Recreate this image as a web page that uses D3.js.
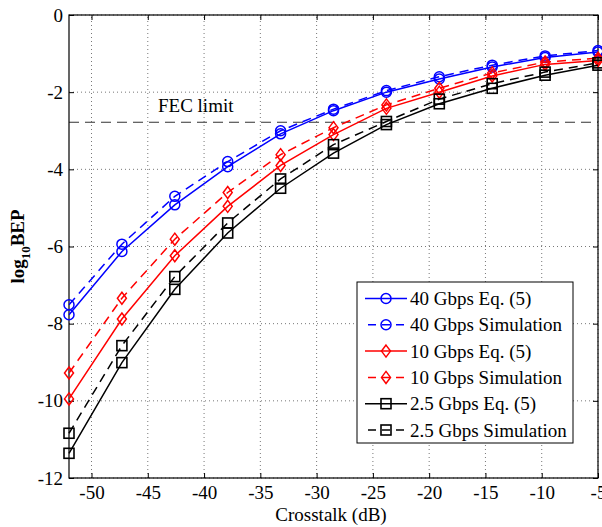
<!DOCTYPE html>
<html>
<head>
<meta charset="utf-8">
<script src="https://cdn.jsdelivr.net/npm/d3@7"></script>
<style>
  body { margin: 0; background: #fff; }
  svg { font-family: 'Liberation Serif', 'DejaVu Serif', serif; }
</style>
</head>
<body>
<svg id="chart"></svg>
<script>
const crosstalk = [-52, -47.3, -42.6, -37.9, -33.2, -28.5, -23.8, -19.1, -14.4, -9.7, -5];
const eq40 = [-7.77, -6.13, -4.92, -3.93, -3.08, -2.48, -2.0, -1.66, -1.35, -1.1, -0.96];
const sim40 = [-7.51, -5.94, -4.7, -3.8, -3.0, -2.44, -1.96, -1.6, -1.3, -1.06, -0.92];
const eq10 = [-9.95, -7.88, -6.24, -4.96, -3.9, -3.1, -2.42, -2.0, -1.58, -1.28, -1.18];
const sim10 = [-9.28, -7.34, -5.81, -4.6, -3.62, -2.92, -2.33, -1.9, -1.5, -1.22, -1.12];
const eq25 = [-11.36, -9.01, -7.11, -5.65, -4.49, -3.58, -2.84, -2.3, -1.9, -1.56, -1.3];
const sim25 = [-10.84, -8.57, -6.78, -5.39, -4.25, -3.36, -2.76, -2.18, -1.78, -1.48, -1.24];
const fecLimit = -2.78;
const xTicks = [-50, -45, -40, -35, -30, -25, -20, -15, -10, -5];
const yTicks = [0, -2, -4, -6, -8, -10, -12];

const series = [
  { name: '40 Gbps Eq. (5)', values: eq40, color: '#0000ff', dash: null, marker: 'circle' },
  { name: '40 Gbps Simulation', values: sim40, color: '#0000ff', dash: '9,6', marker: 'circle' },
  { name: '10 Gbps Eq. (5)', values: eq10, color: '#ff0000', dash: null, marker: 'diamond' },
  { name: '10 Gbps Simulation', values: sim10, color: '#ff0000', dash: '9,6', marker: 'diamond' },
  { name: '2.5 Gbps Eq. (5)', values: eq25, color: '#000000', dash: null, marker: 'square' },
  { name: '2.5 Gbps Simulation', values: sim25, color: '#000000', dash: '9,6', marker: 'square' },
];

const width = 602;
const height = 527;
const margin = { top: 15, right: 4, bottom: 49, left: 69 };
const fontSize = 19;

const svg = d3.select('#chart').attr('width', width).attr('height', height);

const x = d3.scaleLinear().domain([-52, -5]).range([margin.left, width - margin.right]);
const y = d3.scaleLinear().domain([-12, 0]).range([height - margin.bottom, margin.top]);
const fmt = (d) => String(d);

// grid
const grid = svg.append('g').attr('stroke', '#777').attr('stroke-dasharray', '1,3').attr('stroke-width', 1);
xTicks.forEach((t) => {
  grid.append('line').attr('x1', x(t)).attr('x2', x(t)).attr('y1', y(-12)).attr('y2', y(0));
});
yTicks.forEach((t) => {
  grid.append('line').attr('x1', x(-52)).attr('x2', x(-5)).attr('y1', y(t)).attr('y2', y(t));
});

// FEC limit
svg.append('line')
  .attr('x1', x(-52)).attr('x2', x(-5))
  .attr('y1', y(fecLimit)).attr('y2', y(fecLimit))
  .attr('stroke', '#333').attr('stroke-width', 1.2).attr('stroke-dasharray', '10,6');
svg.append('text')
  .attr('x', 158).attr('y', y(fecLimit) - 10)
  .attr('font-size', fontSize).text('FEC limit');

// axes (ticks inside, MATLAB style)
const tickLen = 5;
svg.append('g')
  .attr('transform', `translate(0,${y(-12)})`)
  .call(d3.axisBottom(x).tickValues(xTicks).tickFormat(fmt).tickSizeInner(-tickLen).tickSizeOuter(0).tickPadding(8))
  .call((g) => g.select('.domain').remove())
  .call((g) => g.selectAll('text').attr('font-size', fontSize).attr('font-family', 'Liberation Serif'));
svg.append('g')
  .attr('transform', `translate(0,${y(0)})`)
  .call(d3.axisTop(x).tickValues(xTicks).tickSizeInner(-tickLen).tickSizeOuter(0).tickFormat(''))
  .call((g) => g.select('.domain').remove());
svg.append('g')
  .attr('transform', `translate(${x(-52)},0)`)
  .call(d3.axisLeft(y).tickValues(yTicks).tickFormat(fmt).tickSizeInner(-tickLen).tickSizeOuter(0).tickPadding(6))
  .call((g) => g.select('.domain').remove())
  .call((g) => g.selectAll('text').attr('font-size', fontSize).attr('font-family', 'Liberation Serif'));
svg.append('g')
  .attr('transform', `translate(${x(-5)},0)`)
  .call(d3.axisRight(y).tickValues(yTicks).tickSizeInner(-tickLen).tickSizeOuter(0).tickFormat(''))
  .call((g) => g.select('.domain').remove());

svg.append('rect')
  .attr('x', x(-52)).attr('y', y(0))
  .attr('width', x(-5) - x(-52)).attr('height', y(-12) - y(0))
  .attr('fill', 'none').attr('stroke', '#000').attr('stroke-width', 1.2);

// markers
function drawMarker(g, type, cx, cy, color) {
  if (type === 'circle') {
    g.append('circle').attr('cx', cx).attr('cy', cy).attr('r', 5)
      .attr('fill', 'none').attr('stroke', color).attr('stroke-width', 1.5);
  } else if (type === 'diamond') {
    const r = 6;
    g.append('path')
      .attr('d', `M${cx},${cy - r}L${cx + r * 0.75},${cy}L${cx},${cy + r}L${cx - r * 0.75},${cy}Z`)
      .attr('fill', 'none').attr('stroke', color).attr('stroke-width', 1.5);
  } else {
    const s = 10;
    g.append('rect').attr('x', cx - s / 2).attr('y', cy - s / 2).attr('width', s).attr('height', s)
      .attr('fill', 'none').attr('stroke', color).attr('stroke-width', 1.6);
  }
}

const line = d3.line().x((d, i) => x(crosstalk[i])).y((d) => y(d));

const plot = svg.append('g');
series.forEach((s) => {
  plot.append('path')
    .datum(s.values)
    .attr('fill', 'none')
    .attr('stroke', s.color)
    .attr('stroke-width', 1.5)
    .attr('stroke-dasharray', s.dash)
    .attr('d', line);
  s.values.forEach((v, i) => drawMarker(plot, s.marker, x(crosstalk[i]), y(v), s.color));
});

// legend
const legend = svg.append('g').attr('transform', 'translate(357,282)');
legend.append('rect').attr('width', 216).attr('height', 161)
  .attr('fill', '#fff').attr('stroke', '#000').attr('stroke-width', 1);
series.forEach((s, i) => {
  const ly = 16.5 + i * 26.3;
  legend.append('line')
    .attr('x1', 8).attr('x2', 50).attr('y1', ly).attr('y2', ly)
    .attr('stroke', s.color).attr('stroke-width', 1.5)
    .attr('stroke-dasharray', s.dash ? '8,6' : null)
    .attr('stroke-dashoffset', s.dash ? -3 : null);
  drawMarker(legend, s.marker, 29, ly, s.color);
  legend.append('text').attr('x', 53).attr('y', ly + 6.5).attr('font-size', fontSize).text(s.name);
});

// axis labels
svg.append('text')
  .attr('x', 331).attr('y', 521)
  .attr('text-anchor', 'middle').attr('font-size', fontSize)
  .text('Crosstalk (dB)');

const yl = svg.append('text')
  .attr('transform', `translate(24,${y(-6)}) rotate(-90)`)
  .attr('text-anchor', 'middle').attr('font-size', fontSize).attr('font-weight', 'bold');
yl.append('tspan').text('log');
yl.append('tspan').attr('font-size', 13).attr('dy', 6).text('10');
yl.append('tspan').attr('dy', -6).text('BEP');
</script>
</body>
</html>
